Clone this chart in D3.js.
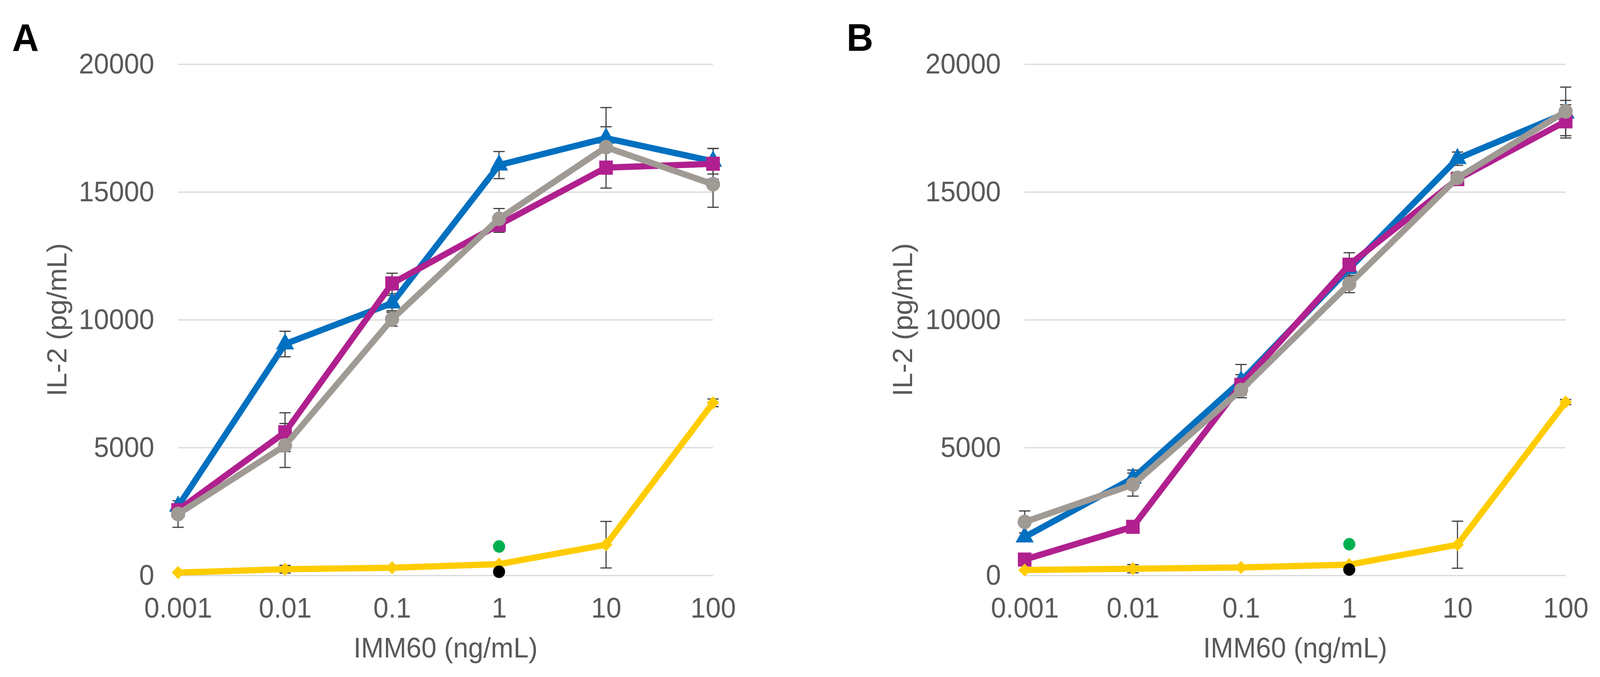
<!DOCTYPE html>
<html>
<head>
<meta charset="utf-8">
<script src="https://cdn.jsdelivr.net/npm/d3@7"></script>
<style>
  html, body { margin: 0; padding: 0; background: #fff; overflow: hidden; }
  svg { display: block; width: 100vw; height: 100vh; }
</style>
</head>
<body>
<script>
// categories and ticks
var doses = ['0.001', '0.01', '0.1', '1', '10', '100'];
var yTicks = [0, 5000, 10000, 15000, 20000];

// panel A values (pg/mL) and error bars
var aBlue = [2700, 9050, 10650, 16050, 17100, 16200];
var aBlueErr = [0, 500, 300, 530, 1200, 500];
var aMagenta = [2550, 5600, 11420, 13720, 15950, 16100];
var aMagentaErr = [200, 760, 400, 300, 800, 600];
var aGray = [2400, 5080, 10020, 13950, 16750, 15300];
var aGrayErr = [520, 860, 270, 400, 800, 900];
var aYellow = [110, 240, 300, 440, 1200, 6750];
var aYellowErr = [0, 150, 60, 0, 910, 150];
var aGreen = 1130;
var aBlack = 140;

// panel B values (pg/mL) and error bars
var bBlue = [1500, 3800, 7600, 12000, 16300, 18080];
var bBlueErr = [0, 320, 650, 400, 260, 500];
var bMagenta = [620, 1900, 7450, 12150, 15500, 17760];
var bMagentaErr = [100, 120, 400, 470, 220, 650];
var bGray = [2090, 3550, 7250, 11400, 15550, 18150];
var bGrayErr = [430, 450, 300, 340, 220, 950];
var bYellow = [210, 260, 310, 420, 1200, 6780];
var bYellowErr = [0, 160, 0, 0, 920, 100];
var bGreen = 1220;
var bBlack = 230;

var width = 4241,
  height = 1732,
  plotTop = 164,
  plotBottom = 1472;

// drawn in a 4241x1732 frame, stretched to whatever viewport we get
var svg = d3.select('body').append('svg')
  .attr('viewBox', '0 0 ' + width + ' ' + height)
  .attr('preserveAspectRatio', 'none');

var panels = [
  {
    letter: 'A', letterX: 32, left: 472, right: 1890, titleX: 176,
    series: [
      {vals: aBlue, err: aBlueErr, color: '#0070c0', shape: 'triangle'},
      {vals: aMagenta, err: aMagentaErr, color: '#b0208f', shape: 'square'},
      {vals: aGray, err: aGrayErr, color: '#a09a94', shape: 'circle'},
      {vals: aYellow, err: aYellowErr, color: '#ffcc00', shape: 'diamond'}
    ],
    green: aGreen, black: aBlack
  },
  {
    letter: 'B', letterX: 2244, left: 2716, right: 4150, titleX: 2418,
    series: [
      {vals: bBlue, err: bBlueErr, color: '#0070c0', shape: 'triangle'},
      {vals: bMagenta, err: bMagentaErr, color: '#b0208f', shape: 'square'},
      {vals: bGray, err: bGrayErr, color: '#a09a94', shape: 'circle'},
      {vals: bYellow, err: bYellowErr, color: '#ffcc00', shape: 'diamond'}
    ],
    green: bGreen, black: bBlack
  }
];

var shapes = {
  triangle: d3.symbol().type(d3.symbolTriangle).size(1000),
  square: d3.symbol().type(d3.symbolSquare).size(1300),
  circle: d3.symbol().type(d3.symbolCircle).size(1100),
  diamond: d3.symbol().type(d3.symbolSquare).size(560)
};

panels.forEach(function (p) {
  var x = d3.scalePoint()
    .domain(doses)
    .range([p.left, p.right])
    .padding(0);

  var y = d3.scaleLinear()
    .domain([0, 20000])
    .range([plotBottom, plotTop]);

  var g = svg.append('g');

  // panel letter
  g.append('text')
    .attr('x', p.letterX)
    .attr('y', 130)
    .attr('font-family', 'Liberation Sans, Arial, sans-serif')
    .attr('font-weight', 'bold')
    .attr('font-size', '98px')
    .attr('fill', '#000')
    .text(p.letter);

  // y axis with gridlines
  var yAxis = g.append('g')
    .attr('transform', 'translate(' + p.left + ',0)')
    .call(d3.axisLeft(y)
      .tickValues(yTicks)
      .tickSize(-(p.right - p.left))
      .tickPadding(63)
      .tickFormat(d3.format('d')));
  yAxis.select('.domain').remove();
  yAxis.selectAll('.tick line')
    .attr('stroke', '#d9d9d9')
    .attr('stroke-width', 3);
  yAxis.selectAll('.tick text')
    .attr('font-family', 'Liberation Sans, Arial, sans-serif')
    .attr('font-size', '72px')
    .attr('fill', '#595959');

  // x axis (labels only)
  var xAxis = g.append('g')
    .attr('transform', 'translate(0,' + plotBottom + ')')
    .call(d3.axisBottom(x).tickSize(0).tickPadding(57));
  xAxis.select('.domain').remove();
  xAxis.selectAll('.tick text')
    .attr('font-family', 'Liberation Sans, Arial, sans-serif')
    .attr('font-size', '72px')
    .attr('fill', '#595959');

  // axis titles
  g.append('text')
    .attr('x', (p.left + p.right) / 2)
    .attr('y', 1682)
    .attr('text-anchor', 'middle')
    .attr('font-family', 'Liberation Sans, Arial, sans-serif')
    .attr('font-size', '72px')
    .attr('fill', '#595959')
    .text('IMM60 (ng/mL)');

  g.append('text')
    .attr('transform', 'translate(' + p.titleX + ',' + (plotTop + plotBottom) / 2 + ') rotate(-90)')
    .attr('text-anchor', 'middle')
    .attr('font-family', 'Liberation Sans, Arial, sans-serif')
    .attr('font-size', '72px')
    .attr('fill', '#595959')
    .text('IL-2 (pg/mL)');

  // error bars beneath the lines
  var bars = g.append('g')
    .attr('stroke', '#404040')
    .attr('stroke-width', 3);

  p.series.forEach(function (s) {
    doses.forEach(function (d, i) {
      if (!s.err[i]) {
        return;
      }
      var cx = x(d),
        y1 = y(s.vals[i] - s.err[i]),
        y2 = y(s.vals[i] + s.err[i]);
      bars.append('line').attr('x1', cx).attr('x2', cx).attr('y1', y1).attr('y2', y2);
      bars.append('line').attr('x1', cx - 15).attr('x2', cx + 15).attr('y1', y1).attr('y2', y1);
      bars.append('line').attr('x1', cx - 15).attr('x2', cx + 15).attr('y1', y2).attr('y2', y2);
    });
  });

  var line = d3.line()
    .x(function (d, i) { return x(doses[i]); })
    .y(function (d) { return y(d); });

  p.series.forEach(function (s) {
    g.append('path')
      .datum(s.vals)
      .attr('d', line)
      .attr('fill', 'none')
      .attr('stroke', s.color)
      .attr('stroke-width', 16)
      .attr('stroke-linejoin', 'round');

    g.selectAll(null)
      .data(s.vals)
      .enter()
      .append('path')
      .attr('d', shapes[s.shape]())
      .attr('fill', s.color)
      .attr('transform', function (d, i) {
        var t = 'translate(' + x(doses[i]) + ',' + y(d) + ')';
        return s.shape === 'diamond' ? t + ' rotate(45)' : t;
      });
  });

  // single controls at 1 ng/mL
  g.append('circle')
    .attr('cx', x('1'))
    .attr('cy', y(p.green))
    .attr('r', 16)
    .attr('fill', '#00b050');

  g.append('circle')
    .attr('cx', x('1'))
    .attr('cy', y(p.black))
    .attr('r', 16)
    .attr('fill', '#000');
});
</script>
</body>
</html>
